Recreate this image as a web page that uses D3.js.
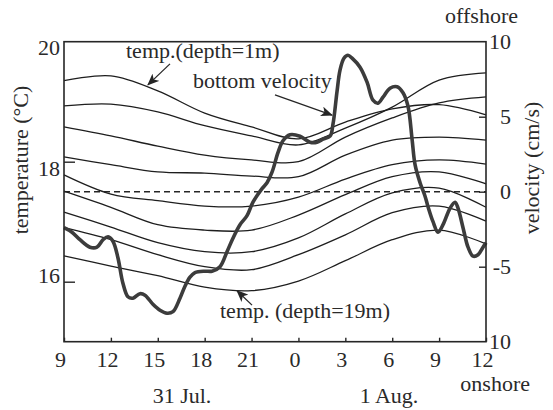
<!DOCTYPE html>
<html><head><meta charset="utf-8">
<script src="https://cdn.jsdelivr.net/npm/d3@7"></script>
<style>
html,body{margin:0;padding:0;background:#fff;}
svg{display:block;}
text{font-family:"Liberation Serif","Times New Roman",serif;fill:#2a2a2a;}
</style></head><body>
<svg id="chart" width="553" height="410"></svg>
<script>
// Hours since 00:00 on 31 Jul (09:00 31 Jul .. 12:00 1 Aug)
const hours = [9, 12, 15, 18, 21, 24, 27, 30, 33, 36];
const hourTickLabels = ["9", "12", "15", "18", "21", "0", "3", "6", "9", "12"];

// Water temperature (°C) at successive depths, shallow to deep
const tempDepth1m  = [19.35, 19.43, 19.18, 18.81, 18.58, 18.38, 18.66, 18.88, 18.95, 18.78];
const tempLevel2   = [18.93, 18.96, 18.83, 18.60, 18.43, 18.28, 18.56, 18.91, 19.36, 19.48];
const tempLevel3   = [18.58, 18.43, 18.26, 18.11, 18.03, 18.00, 18.41, 18.73, 18.98, 19.08];
const tempLevel4   = [18.08, 17.95, 17.83, 17.81, 17.76, 17.75, 18.11, 18.36, 18.41, 18.36];
const tempLevel5   = [17.78, 17.46, 17.35, 17.26, 17.26, 17.41, 17.71, 17.95, 18.03, 17.96];
const tempLevel6   = [17.51, 17.24, 16.95, 16.86, 16.86, 17.11, 17.45, 17.75, 17.83, 17.63];
const tempLevel7   = [17.16, 16.91, 16.65, 16.50, 16.50, 16.73, 17.13, 17.48, 17.56, 17.24];
const tempLevel8   = [16.90, 16.70, 16.45, 16.25, 16.20, 16.45, 16.78, 17.15, 17.26, 17.01];
const tempDepth19m = [16.43, 16.26, 16.10, 15.91, 15.85, 16.01, 16.35, 16.70, 16.86, 16.63];

// Bottom velocity (cm/s), positive = offshore
const velHours = [9.00,9.51,10.02,10.66,11.11,11.50,11.82,12.13,12.45,12.77,
  13.09,13.41,13.86,14.18,14.69,15.14,15.59,15.97,16.42,16.74,
  17.06,17.38,18.02,18.47,18.98,19.43,19.81,20.26,20.71,21.09,
  21.67,21.99,22.31,22.69,23.01,23.46,24.10,24.74,25.19,25.57,
  26.02,26.21,26.47,26.66,26.91,27.17,27.43,27.94,28.39,28.77,
  29.09,29.41,29.86,30.31,30.69,31.01,31.27,31.46,31.78,32.10,
  32.29,32.61,32.93,33.25,33.70,34.02,34.21,34.53,34.85,35.17,
  35.49,35.81,36.00];
const velValues = [-2.4,-2.7,-3.2,-3.7,-3.7,-3.2,-3.0,-3.3,-4.4,-6.1,
  -7.0,-7.1,-6.8,-6.9,-7.5,-7.9,-8.1,-8.0,-7.1,-6.3,
  -5.7,-5.4,-5.3,-5.3,-5.0,-4.0,-3.1,-2.2,-1.6,-0.7,
  0.2,0.6,1.3,2.6,3.4,3.8,3.7,3.3,3.3,3.5,
  3.7,4.5,6.7,8.1,8.9,9.1,8.9,8.3,7.3,6.1,
  5.9,6.3,6.9,7.0,6.6,5.7,3.5,1.8,0.6,-0.3,
  -1.0,-2.0,-2.7,-2.2,-1.1,-0.7,-1.1,-2.4,-3.7,-4.3,
  -4.2,-3.7,-3.4];

// Axis ticks
const tempTicks = [16, 18, 20];
const velTicks = [10, 5, 0, -5, -10];
const velTickLabels = ["10", "5", "0", "-5", "10"];

const tempLines = [tempDepth1m, tempLevel2, tempLevel3, tempLevel4, tempLevel5,
                   tempLevel6, tempLevel7, tempLevel8, tempDepth19m];

const svg = d3.select("#chart");
const plotLeft = 64, plotRight = 486, plotTop = 41.7, plotBottom = 341.7;
const ink = "#262626";

const x = d3.scaleLinear().domain([9, 36]).range([plotLeft, plotRight]);
const yT = d3.scaleLinear().domain([15, 20]).range([plotBottom, plotTop]);
const yV = d3.scaleLinear().domain([-10, 10]).range([plotBottom, plotTop]);

// zero-velocity reference
svg.append("line")
  .attr("x1", x(9)).attr("x2", x(36))
  .attr("y1", yV(0)).attr("y2", yV(0))
  .attr("stroke", ink).attr("stroke-width", 1.5)
  .attr("stroke-dasharray", "6,4");

// temperature traces
const tLine = d3.line()
  .x((d, i) => x(hours[i]))
  .y(d => yT(d))
  .curve(d3.curveCatmullRom.alpha(0.5));

svg.append("g").selectAll("path")
  .data(tempLines)
  .join("path")
  .attr("d", tLine)
  .attr("fill", "none")
  .attr("stroke", "#1e1e1e")
  .attr("stroke-width", 1.3);

// bottom velocity trace
const vLine = d3.line()
  .x((d, i) => x(velHours[i]))
  .y(d => yV(d))
  .curve(d3.curveCatmullRom.alpha(0.5));

svg.append("path")
  .datum(velValues)
  .attr("d", vLine)
  .attr("fill", "none")
  .attr("stroke", "#3c3c3c")
  .attr("stroke-width", 3.6)
  .attr("stroke-linejoin", "round");

// frame
svg.append("rect")
  .attr("x", plotLeft).attr("y", plotTop)
  .attr("width", plotRight - plotLeft).attr("height", plotBottom - plotTop)
  .attr("fill", "none").attr("stroke", ink).attr("stroke-width", 1.6);

// axes
const fontSize = 22;
const leftShift = {20: 6, 18: 7, 16: -6};
const gL = svg.append("g").attr("transform", `translate(${plotLeft},0)`)
  .call(d3.axisLeft(yT).tickValues(tempTicks).tickSize(-11).tickFormat(d3.format("d")));
gL.select(".domain").remove();
gL.selectAll("line").attr("stroke", ink).attr("stroke-width", 1.4);
gL.selectAll("text").attr("x", -4).attr("font-size", fontSize)
  .attr("dy", d => (leftShift[d] || 0) + 7);
gL.selectAll(".tick").filter(d => d === 20).select("line").remove();

const gR = svg.append("g").attr("transform", `translate(${plotRight},0)`)
  .call(d3.axisRight(yV).tickValues(velTicks).tickSize(-7).tickFormat((d, i) => velTickLabels[i]));
gR.select(".domain").remove();
gR.selectAll("line").attr("stroke", ink).attr("stroke-width", 1.4);
gR.selectAll(".tick").filter(d => Math.abs(d) === 10).select("line").remove();
gR.selectAll("text").attr("x", 25).attr("text-anchor", "end").attr("font-size", fontSize).attr("dy", 7);

const gB = svg.append("g").attr("transform", `translate(0,${plotBottom})`)
  .call(d3.axisBottom(x).tickValues(hours).tickSize(-4).tickFormat((d, i) => hourTickLabels[i]));
gB.select(".domain").remove();
gB.selectAll("line").attr("stroke", ink).attr("stroke-width", 1.4);
gB.selectAll("text").attr("x", -4).attr("y", 25).attr("dy", 0).attr("font-size", fontSize);

// axis titles and side notes
const txt = (s, px, py, anchor, extra) => {
  const t = svg.append("text").attr("x", px).attr("y", py)
    .attr("font-size", fontSize).attr("text-anchor", anchor || "start").text(s);
  if (extra) extra(t);
  return t;
};
txt("temperature  (°C)", 0, 0, "middle", t => t.attr("transform", "translate(28,160) rotate(-90)"));
txt("velocity (cm/s)", 0, 0, "middle", t => t.attr("transform", "translate(539,168) rotate(-90)"));
txt("offshore", 518, 23, "end");
txt("onshore", 530, 391, "end");
txt("31 Jul.", 182, 403, "middle");
txt("1 Aug.", 389, 403, "middle");

// annotations
const defs = svg.append("defs");
defs.append("marker").attr("id", "head")
  .attr("viewBox", "0 0 12 10").attr("refX", 11).attr("refY", 5)
  .attr("markerWidth", 12).attr("markerHeight", 10)
  .attr("markerUnits", "userSpaceOnUse").attr("orient", "auto")
  .append("path").attr("d", "M0,0 L12,5 L0,10 L3,5 Z").attr("fill", ink);

const arrow = (h0, v0, h1, v1, yS) => svg.append("line")
  .attr("x1", x(h0)).attr("y1", yS(v0)).attr("x2", x(h1)).attr("y2", yS(v1))
  .attr("stroke", ink).attr("stroke-width", 1.3).attr("marker-end", "url(#head)");

txt("temp.(depth=1m)", 126, 58);
arrow(15.78, 19.63, 14.37, 19.28, yT);
txt("bottom velocity", 193, 88);
arrow(22.5, 6.45, 26.15, 5.11, yV);
txt("temp. (depth=19m)", 220, 318);
arrow(21.03, 15.61, 20.07, 15.85, yT);
</script>
</body></html>
